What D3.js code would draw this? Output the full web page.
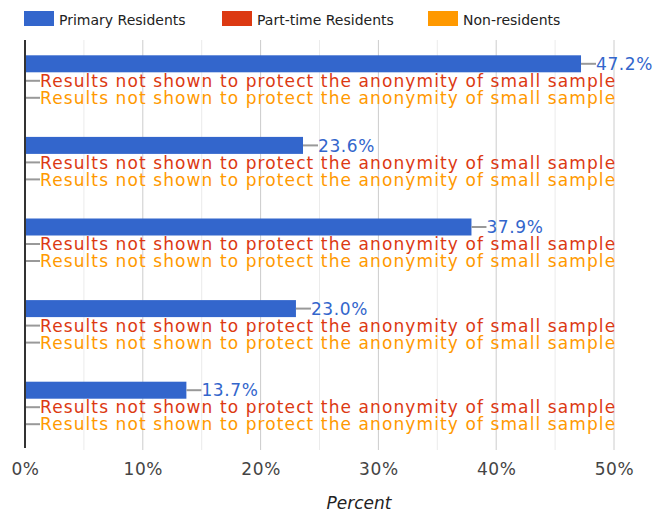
<!DOCTYPE html>
<html lang="en">
<head>
  <meta charset="UTF-8">
  <title>Residents chart</title>
  <script src="https://d3js.org/d3.v7.min.js"></script>
  <style>
    body { margin: 0; background: #fff; }
    text { font-family: "DejaVu Sans", sans-serif; }
  </style>
</head>
<body>
  <svg id="chart" width="665" height="514"></svg>
  <script>
    // data
    const categories = ['Group 1', 'Group 2', 'Group 3', 'Group 4', 'Group 5'];
    const seriesNames = ['Primary Residents', 'Part-time Residents', 'Non-residents'];
    const primary = [47.2, 23.6, 37.9, 23.0, 13.7];
    const partTime = [null, null, null, null, null];
    const nonResidents = [null, null, null, null, null];
    const xTicks = [0, 10, 20, 30, 40, 50];
    const minorTicks = [5, 15, 25, 35, 45];
    const hiddenNote = 'Results not shown to protect the anonymity of small sample';

    const colors = ['#3366cc', '#dc3912', '#ff9900'];
    const allSeries = [primary, partTime, nonResidents];

    const svg = d3.select('#chart');
    const plotTop = 40, plotBottom = 448, plotLeft = 25, plotRight = 614;

    const x = d3.scaleLinear().domain([0, 50]).range([plotLeft, plotRight]);
    const y = d3.scaleBand().domain(categories).range([plotTop, plotBottom])
      .paddingInner(0.375).paddingOuter(0.1875);
    const ySub = d3.scaleBand().domain(seriesNames).range([0, y.bandwidth()]);

    // grid
    svg.append('g').selectAll('line').data(minorTicks).join('line')
      .attr('x1', d => x(d)).attr('x2', d => x(d))
      .attr('y1', plotTop).attr('y2', plotBottom + 2)
      .attr('stroke', '#ebebeb').attr('stroke-width', 1);
    svg.append('g').selectAll('line').data(xTicks.slice(1)).join('line')
      .attr('x1', d => x(d)).attr('x2', d => x(d))
      .attr('y1', plotTop).attr('y2', plotBottom + 2)
      .attr('stroke', '#cccccc').attr('stroke-width', 1);

    // x axis labels
    const axis = d3.axisBottom(x).tickValues(xTicks).tickFormat(d => d + '%').tickSize(0).tickPadding(0);
    const gx = svg.append('g').attr('transform', `translate(0,475)`).call(axis);
    gx.select('.domain').remove();
    gx.selectAll('text').attr('font-size', 17).attr('letter-spacing', 0.6).attr('fill', '#444')
      .attr('font-family', '"DejaVu Sans", sans-serif').attr('dy', 0);

    svg.append('text').attr('x', 359).attr('y', 509)
      .attr('text-anchor', 'middle').attr('font-size', 17).attr('font-style', 'italic')
      .attr('fill', '#222').text('Percent');

    // bars + labels
    allSeries.forEach((vals, si) => {
      const g = svg.append('g');
      categories.forEach((c, ci) => {
        const v = vals[ci];
        const y0 = y(c) + ySub(seriesNames[si]);
        const h = ySub.bandwidth();
        const cy = y0 + h / 2;
        const end = v == null ? x(0) : x(v);
        if (v != null) {
          g.append('rect').attr('x', x(0)).attr('y', y0)
            .attr('width', end - x(0)).attr('height', h).attr('fill', colors[si]);
        }
        g.append('line').attr('x1', end).attr('x2', end + 15)
          .attr('y1', cy).attr('y2', cy).attr('stroke', '#999').attr('stroke-width', 2);
        g.append('text').attr('x', end + 15).attr('y', cy).attr('dy', '0.36em')
          .attr('font-size', 17).attr('fill', colors[si])
          .attr('letter-spacing', v == null ? 1.1 : 0.6)
          .text(v == null ? hiddenNote : v.toFixed(1) + '%');
      });
    });

    // baseline
    svg.append('line').attr('x1', x(0)).attr('x2', x(0))
      .attr('y1', plotTop).attr('y2', plotBottom).attr('stroke', '#333').attr('stroke-width', 2);

    // legend
    const legendX = [24, 222, 428];
    const lg = svg.append('g').selectAll('g').data(seriesNames).join('g')
      .attr('transform', (d, i) => `translate(${legendX[i]},11)`);
    lg.append('rect').attr('width', 30).attr('height', 15).attr('fill', (d, i) => colors[i]);
    lg.append('text').attr('x', 35).attr('y', 14)
      .attr('font-size', 14).attr('fill', '#222').text(d => d);
  </script>
</body>
</html>
